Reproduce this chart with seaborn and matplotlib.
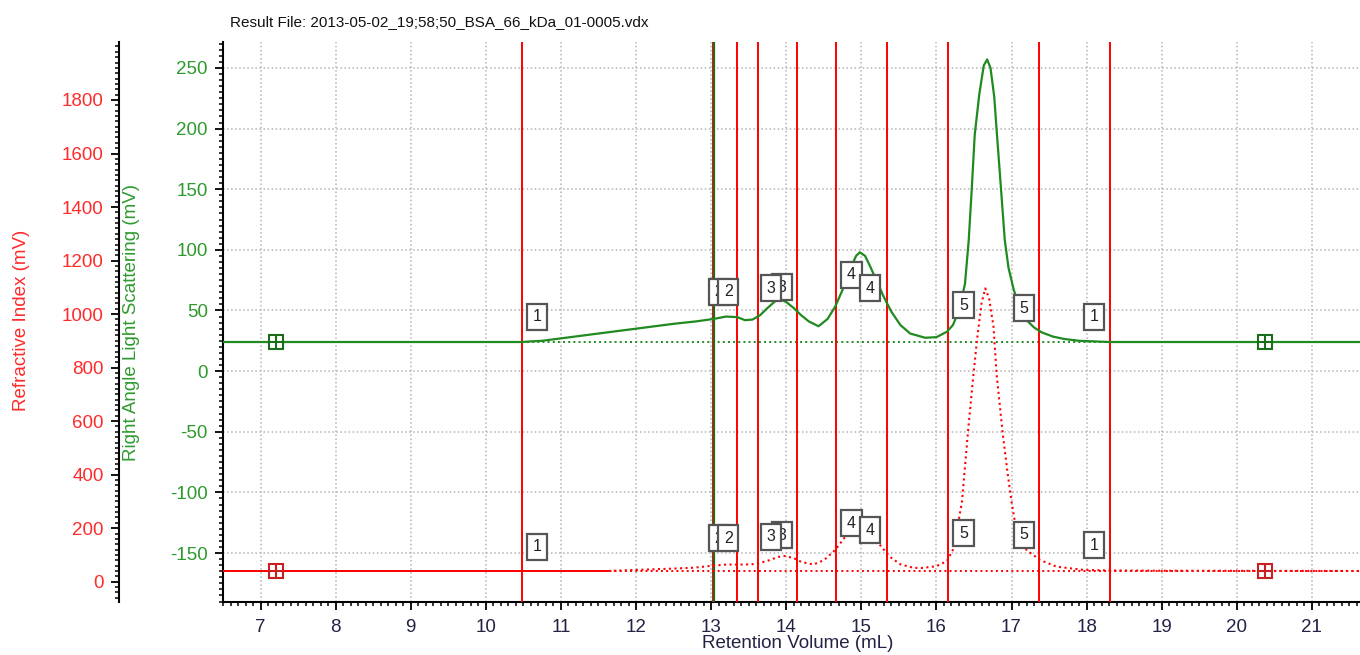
import numpy as np
import matplotlib
matplotlib.use("Agg")
import matplotlib.pyplot as plt
import seaborn as sns

# ---------------- data ----------------
title_text = "Result File: 2013-05-02_19;58;50_BSA_66_kDa_01-0005.vdx"
x_label = "Retention Volume (mL)"
red_label = "Refractive Index (mV)"
green_label = "Right Angle Light Scattering (mV)"

x_ticks = list(range(7, 22))
green_ticks = [-150, -100, -50, 0, 50, 100, 150, 200, 250]
red_ticks = [0, 200, 400, 600, 800, 1000, 1200, 1400, 1600, 1800]

# Right angle light scattering trace (mV)
green_x = [6.5, 9.65, 10.48, 10.6, 10.75, 11.0, 11.5, 12.0, 12.5, 12.8, 13.03, 13.2,
           13.35, 13.45, 13.55, 13.65, 13.75, 13.85, 13.92, 14.0, 14.1, 14.2, 14.3,
           14.43, 14.55, 14.65, 14.75, 14.85, 14.93, 14.98, 15.05, 15.12, 15.2, 15.3,
           15.4, 15.52, 15.65, 15.85, 16.0, 16.14, 16.22, 16.3, 16.38, 16.43, 16.47,
           16.51, 16.57, 16.63, 16.675, 16.72, 16.77, 16.8, 16.86, 16.91, 16.96, 17.03,
           17.12, 17.2, 17.3, 17.4, 17.55, 17.7, 17.9, 18.1, 18.3, 21.7]
green_y = [24, 24, 24, 24.5, 25, 27, 31, 35, 39, 41, 43, 45,
           44.5, 42, 42.5, 46, 52, 57.5, 59, 57, 52, 46, 41,
           37, 43, 53, 67, 84, 95, 98, 95, 86, 75, 61,
           49, 38, 31, 27.5, 28, 32.5, 38, 50, 72, 108, 150,
           195, 228, 252, 257, 250, 226, 200, 150, 108, 85, 67,
           50, 42, 36, 32, 28.5, 26.5, 25, 24.5, 24, 24]

# Refractive index trace (mV)
red_pre_x = [6.5, 11.63]
red_pre_y = [40, 40]
red_x = [11.63, 12.0, 12.5, 12.76, 13.03, 13.2, 13.45, 13.6, 13.75, 13.9, 13.98,
         14.1, 14.2, 14.36, 14.5, 14.65, 14.78, 14.9, 14.98, 15.06, 15.15, 15.23,
         15.38, 15.52, 15.69, 15.8, 16.0, 16.14, 16.23, 16.34, 16.42, 16.49, 16.54,
         16.6, 16.65, 16.7, 16.76, 16.8, 16.88, 16.95, 17.0, 17.05, 17.2, 17.38,
         17.6, 17.96, 18.3, 18.94, 21.7]
red_y = [40, 44, 49, 52, 60, 64, 64, 66, 78, 93, 96,
         88, 74, 64, 80, 118, 166, 200, 210, 200, 175, 143,
         93, 65, 52, 51, 58, 77, 125, 299, 560, 766, 903,
         1040, 1096, 1060, 953, 779, 560, 400, 299, 215, 118, 81,
         56, 44, 42, 41, 40]

green_baseline = 24
red_baseline = 40
marker_x = [7.2, 20.38]

# peak boundary lines
red_vlines = [10.48, 13.03, 13.35, 13.62, 14.14, 14.66, 15.34, 16.15, 17.36, 18.31]
green_vline = 13.04

# numbered peak markers
box_text = ["1", "2", "2", "3", "3", "4", "4", "5", "5", "1"]
box_x = [10.68, 13.10, 13.23, 13.94, 13.80, 14.87, 15.12, 16.36, 17.16, 18.10]
box_green_y = [44.9, 65.5, 65.5, 69.1, 68.3, 79.3, 68.3, 54.5, 51.8, 44.9]
box_red_y = [131, 162, 162, 174, 168, 218, 193, 181, 175, 137]

# ---------------- style ----------------
sns.set_theme(style="white")
plt.rcParams["font.family"] = ["Liberation Sans", "DejaVu Sans"]
plt.rcParams["axes.unicode_minus"] = False

RED = "#ff0000"
RED_TXT = "#ff2a2a"
GREEN = "#1f8a1f"
GREEN_TXT = "#2e9a2e"
DKGREEN = "#1a6e1a"

fig = plt.figure(figsize=(13.6, 6.55), dpi=100)
ax = fig.add_axes([223 / 1360, 53 / 655, (1360 - 223) / 1360, 560 / 655])
ax_r = ax.twinx()

ax.set_xlim(6.5, 21.64)
ax.set_ylim(-190.4, 271.4)
ax_r.set_ylim(-75.9, 2016.7)

# grid
ax.set_axisbelow(True)
ax.set_xticks(x_ticks)
ax.set_yticks(green_ticks)
ax.grid(True, which="major", ls=":", color="#b4b4b4", lw=1.1)
ax_r.grid(False)

# baselines
ax.axhline(green_baseline, ls=":", color=GREEN, lw=1.4, zorder=2)
ax_r.axhline(red_baseline, ls=":", color=RED, lw=1.4, zorder=2)

# vertical lines
for xv in red_vlines:
    ax.axvline(xv, color=RED, lw=1.4, zorder=3)
ax.axvline(green_vline, color=DKGREEN, lw=1.6, zorder=3)

# traces
sns.lineplot(x=green_x, y=green_y, ax=ax, color=GREEN, lw=1.6, zorder=4)
sns.lineplot(x=red_pre_x, y=red_pre_y, ax=ax_r, color=RED, lw=1.4, zorder=4)
sns.lineplot(x=red_x, y=red_y, ax=ax_r, color=RED, lw=1.5, ls=":", zorder=4)

# end markers
for mx in marker_x:
    ax.plot(mx, green_baseline, marker="s", ms=10, mfc="white", mec=DKGREEN, mew=1.5, zorder=6)
    ax.plot(mx, green_baseline, marker="+", ms=10, mec=DKGREEN, mew=1.5, zorder=7)
    ax_r.plot(mx, red_baseline, marker="s", ms=10, mfc="white", mec="#c82020", mew=1.5, zorder=6)
    ax_r.plot(mx, red_baseline, marker="+", ms=10, mec="#c82020", mew=1.5, zorder=7)

# numbered boxes
bbox = dict(boxstyle="square,pad=0.35", fc="white", ec="#555555", lw=1.6)
for t, bx, gy, ry in zip(box_text, box_x, box_green_y, box_red_y):
    ax.text(bx, gy, t, ha="center", va="center", fontsize=11.5, color="#222222",
            bbox=bbox, zorder=8)
    ax_r.text(bx, ry, t, ha="center", va="center", fontsize=11.5, color="#222222",
              bbox=bbox, zorder=8)

# spines
for s in ["top", "right"]:
    ax.spines[s].set_visible(False)
    ax_r.spines[s].set_visible(False)
ax_r.spines["bottom"].set_visible(False)
for s in ["left", "bottom"]:
    ax.spines[s].set_visible(True)
    ax.spines[s].set_color("black")
    ax.spines[s].set_linewidth(1.5)
ax_r.spines["left"].set_visible(True)
ax_r.spines["left"].set_color("black")
ax_r.spines["left"].set_linewidth(1.5)
ax_r.spines["left"].set_position(("outward", 75))
ax_r.yaxis.set_ticks_position("left")
ax_r.yaxis.set_label_position("left")

# ticks
ax.xaxis.set_minor_locator(matplotlib.ticker.MultipleLocator(0.1))
ax.yaxis.set_minor_locator(matplotlib.ticker.MultipleLocator(5))
ax_r.set_yticks(red_ticks)
ax_r.yaxis.set_minor_locator(matplotlib.ticker.MultipleLocator(20))

ax.tick_params(axis="x", which="major", direction="out", length=6, width=1.3,
               color="black", labelsize=13.5, labelcolor="#222244", pad=6, bottom=True)
ax.tick_params(axis="x", which="minor", direction="out", length=3, width=1.1,
               color="black", bottom=True)
ax.tick_params(axis="y", which="major", direction="out", length=6, width=1.3,
               color="black", labelsize=13.5, labelcolor=GREEN_TXT, pad=5, left=True)
ax.tick_params(axis="y", which="minor", direction="out", length=3, width=1.1,
               color="black", left=True)
ax_r.tick_params(axis="y", which="major", direction="out", length=6, width=1.3,
                 color="black", labelsize=13.5, labelcolor=RED_TXT, pad=5,
                 left=True, right=False, labelleft=True, labelright=False)
ax_r.tick_params(axis="y", which="minor", direction="out", length=3, width=1.1,
                 color="black", left=True, right=False)

# labels
fig.text(230 / 1360, 1 - 22 / 655, title_text, fontsize=11, ha="left", va="center",
         color="#111111")
fig.text(798 / 1360, 1 - 644 / 655, x_label, fontsize=13.5, ha="center", va="center",
         color="#222244")
fig.text(22 / 1360, 1 - 320 / 655, red_label, fontsize=13.5, rotation=90,
         ha="center", va="center", color=RED_TXT)
fig.text(131 / 1360, 1 - 322 / 655, green_label, fontsize=13.5, rotation=90,
         ha="center", va="center", color=GREEN_TXT)

fig.savefig("out.png", dpi=100)
